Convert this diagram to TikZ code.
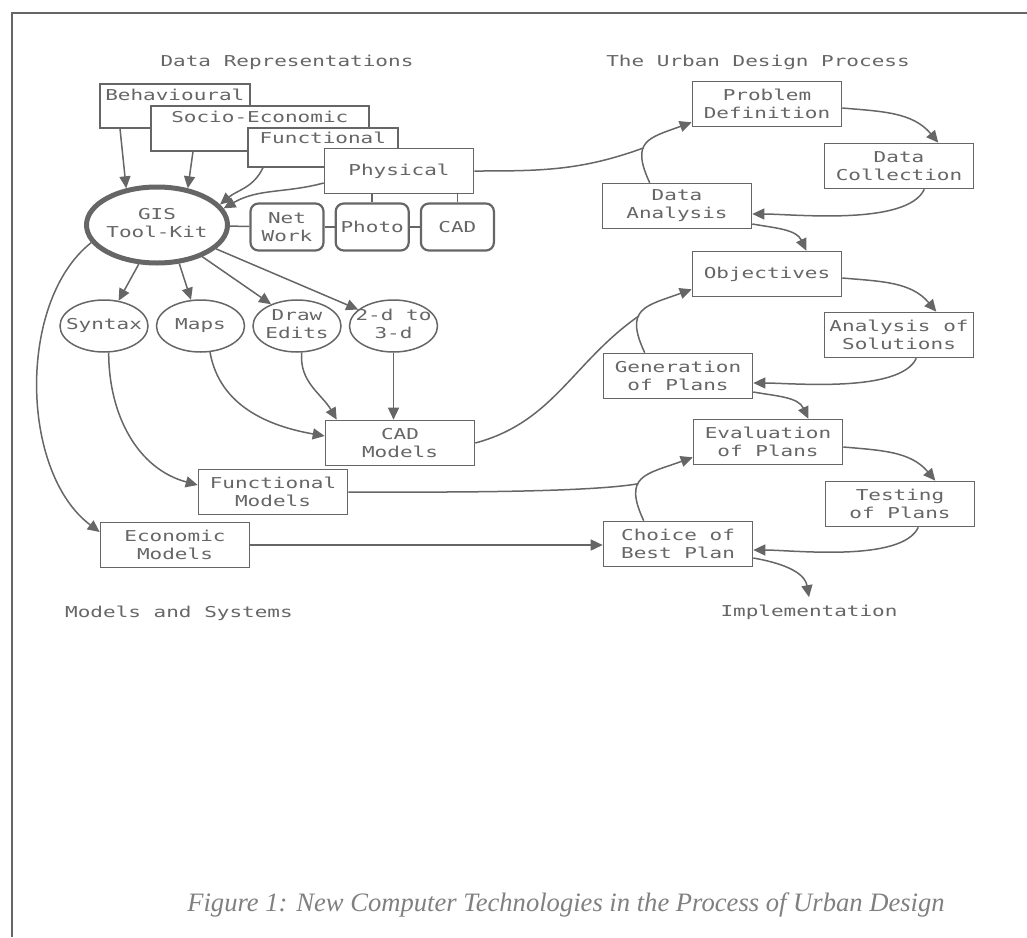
\documentclass[tikz,border=0pt]{standalone}
\usepackage{fontspec}
\usepackage{xcolor}
\usepackage{tikz}
\usetikzlibrary{positioning}
\usetikzlibrary{chains,arrows.meta,shapes.geometric}

\newfontfamily\monfont{DejaVu Sans Mono}[FakeStretch=1.4]
\newfontfamily\capfont{Liberation Serif}
\newcommand{\boxfont}{\monfont\fontsize{15}{18}\selectfont}
\newcommand{\ovtext}[1]{\makebox[0pt]{\begin{tabular}{@{}c@{}}#1\end{tabular}}}
\definecolor{lc}{gray}{0.40}
\definecolor{tc}{gray}{0.40}
\definecolor{cc}{gray}{0.50}

\begin{document}
\begin{tikzpicture}[x=1pt, y=1pt,
    box/.style={draw=lc, fill=white, line width=1.6pt, text=tc, font=\boxfont,
      align=center, minimum width=149pt, minimum height=45pt, inner sep=2pt},
    tool/.style={box, rounded corners=8pt, line width=2.2pt,
      minimum width=73pt, minimum height=47pt, inner sep=0pt},
    oval/.style={ellipse, draw=lc, line width=1.5pt, text=tc, font=\boxfont,
      minimum width=88pt, minimum height=52pt, inner sep=0pt},
    head/.style={text=tc, font=\boxfont},
    link/.style={draw=lc, line width=1.5pt},
    arr/.style={link, -{Triangle[length=12pt,width=11pt]}}]
  \useasboundingbox (0,0) rectangle (1027,-937);
  \draw[lc, line width=2pt] (12,-937) -- (12,-13) -- (1027,-13);

  \node[head] (drep) at (287,-62) {Data Representations};
  \node[head] (udp) at (758,-62) {The Urban Design Process};

  \node[box, anchor=north west, minimum width=150pt, minimum height=44pt,
    text height=15pt, text depth=25pt] (beh) at (99,-83) {Behavioural};
  \node[box, anchor=north west, minimum width=218pt,
    text height=15pt, text depth=26pt] (soc) at (150,-105) {Socio-Economic};
  \node[box, anchor=north west, minimum width=150pt, minimum height=39pt,
    text height=14pt, text depth=21pt] (fun) at (247,-127) {Functional};
  \node[box] (phys) at (399,-171) {Physical};

  \node[oval, line width=5pt, minimum width=141pt, minimum height=76pt]
    (gis) at (157,-225) {\ovtext{GIS\\Tool-Kit}};

  \begin{scope}[start chain=going right, node distance=10pt]
    \node[tool, on chain] (net) at (287,-227) {Net\\Work};
    \node[tool, on chain] (photo) {Photo};
    \node[tool, on chain] (cad) {CAD};
  \end{scope}

  \begin{scope}[start chain=going right, node distance=7pt]
    \node[oval, on chain] (syn) at (104,-326) {\ovtext{Syntax}};
    \node[oval, on chain] (maps) {\ovtext{Maps}};
    \node[oval, on chain] (edits) {\ovtext{Draw\\Edits}};
    \node[oval, on chain] (twod) {\ovtext{2-d to\\3-d}};
  \end{scope}

  \node[box] (cadm) at (400,-443) {CAD\\Models};
  \node[box] (fm) at (273,-492) {Functional\\Models};
  \node[box] (econ) at (175,-545) {Economic\\Models};

  \node[box] (prob) at (767,-104) {Problem\\Definition};
  \node[box] (dcol) at (899,-166) {Data\\Collection};
  \node[box] (dana) at (677,-206) {Data\\Analysis};
  \node[box] (obj) at (767,-274) {Objectives};
  \node[box] (aos) at (899,-335) {Analysis of\\Solutions};
  \node[box] (gen) at (678,-376) {Generation\\of Plans};
  \node[box] (eval) at (768,-442) {Evaluation\\of Plans};
  \node[box] (test) at (900,-504) {Testing\\of Plans};
  \node[box] (choice) at (678,-544) {Choice of\\Best Plan};

  \node[head] (impl) at (809,-612) {Implementation};
  \node[head] (msys) at (179,-613) {Models and Systems};
  \node[text=cc, font=\capfont\itshape\fontsize{26.6}{30}\selectfont] (cap)
    at (566,-905) {Figure 1: New Computer Technologies in the Process of Urban Design};

  % data into the tool-kit
  \draw[arr] ([xshift=21pt]beh.south west) -- (gis.130);
  \draw[arr] ([xshift=43pt]soc.south west) -- (gis.50);
  \draw[arr] ([xshift=16pt]fun.south west) to[out=-115,in=40] (gis.18);
  \draw[arr] ([yshift=-12pt]phys.west) to[out=195,in=30] (gis.14);
  \draw[link] (gis) -- (net);
  \draw[link] (net) -- (photo);
  \draw[link] (photo) -- (cad);
  \draw[link] (photo.north) -- (photo.north |- phys.south);
  \draw[link] (cad.north) -- (cad.north |- phys.south);

  % tool-kit out to models
  \draw[arr] (gis.-115) -- (syn.60);
  \draw[arr] (gis.-60) -- (maps.110);
  \draw[arr] (gis.-35) -- (edits.140);
  \draw[arr] (gis.-22) -- (twod.155);
  \draw[arr] (twod.south) -- (twod.south |- cadm.north);
  \draw[arr] (edits.-80) to[out=-95,in=120] ([xshift=12pt]cadm.north west);
  \draw[arr] (maps.-70) to[out=-80,in=170] ([yshift=7pt]cadm.west);
  \draw[arr] (syn.-80) to[out=-90,in=165] ([yshift=7pt]fm.west);
  \draw[arr] (gis.-165) .. controls +(-74,-58) and +(-80,60) .. ([yshift=13pt]econ.west);
  \draw[arr] (econ.east) -- (econ.east -| choice.west);

  % the design cycle
  \draw[arr] ([xshift=48pt]dana.north west) to[out=115,in=200,looseness=1.6]
    coordinate[pos=0.4] (m1) ([yshift=5pt]prob.south west);
  \draw[link] (phys.east) to[out=0,in=200] (m1);
  \draw[arr] ([yshift=-4pt]prob.east) to[out=-5,in=130] ([xshift=-36pt]dcol.north east);
  \draw[arr] ([xshift=-50pt]dcol.south east) to[out=-115,in=0,looseness=0.6] ([yshift=-8pt]dana.east);
  \draw[arr] ([yshift=-18pt]dana.east) to[out=-10,in=115] ([xshift=-36pt]obj.north east);

  \draw[arr] ([xshift=42pt]gen.north west) to[out=115,in=200,looseness=1.6]
    coordinate[pos=0.4] (m2) ([yshift=8pt]obj.south west);
  \draw[link] (cadm.east) to[out=15,in=215] (m2);
  \draw[arr] ([yshift=-4pt]obj.east) to[out=-5,in=130] ([xshift=-38pt]aos.north east);
  \draw[arr] ([xshift=-58pt]aos.south east) to[out=-115,in=0,looseness=0.6] ([yshift=-7pt]gen.east);
  \draw[arr] ([yshift=-16pt]gen.east) to[out=-10,in=115] ([xshift=-35pt]eval.north east);

  \draw[arr] ([xshift=41pt]choice.north west) to[out=115,in=200,looseness=1.6]
    coordinate[pos=0.4] (m3) ([yshift=8pt]eval.south west);
  \draw[link] (fm.east) to[out=0,in=190,looseness=0.5] (m3);
  \draw[arr] ([yshift=-5pt]eval.east) to[out=-5,in=130] ([xshift=-40pt]test.north east);
  \draw[arr] ([xshift=-57pt]test.south east) to[out=-115,in=0,looseness=0.6] ([yshift=-6pt]choice.east);
  \draw[arr] ([yshift=-14pt]choice.east) to[out=-10,in=100] ([yshift=4pt]impl.north);
\end{tikzpicture}
\end{document}
